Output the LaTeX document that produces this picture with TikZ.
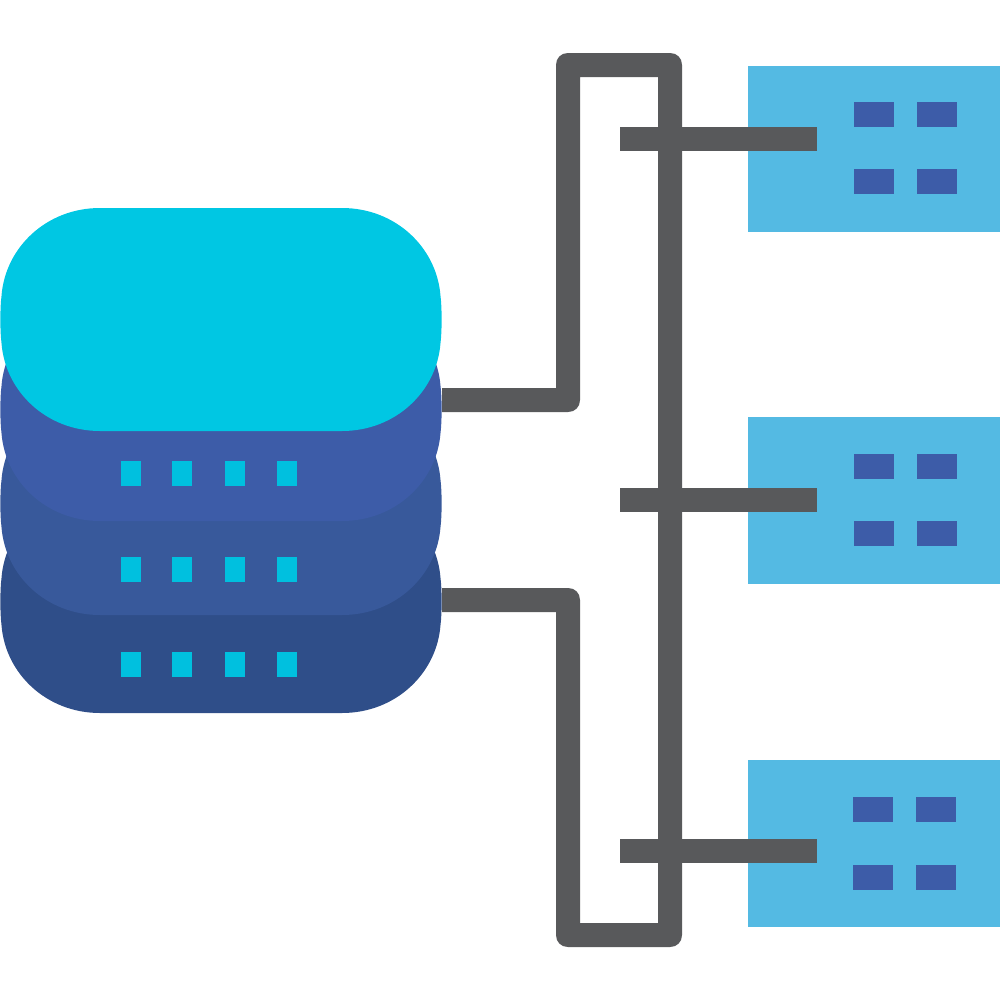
\documentclass[tikz,border=0pt]{standalone}
\definecolor{wire}{HTML}{58595B}
\definecolor{cyantop}{HTML}{00C7E3}
\definecolor{dotcyan}{HTML}{00C0DF}
\definecolor{layerA}{HTML}{3D5CA8}
\definecolor{layerB}{HTML}{38599B}
\definecolor{layerC}{HTML}{2F4E89}
\definecolor{hostblue}{HTML}{54BAE3}
\tikzset{
  wirefill/.style={fill=wire},
  hostbox/.style={fill=hostblue},
  hostdot/.style={fill=layerA},
  leddot/.style={fill=dotcyan}
}
% #1 colour, #2 top y
\newcommand{\serverlayer}[2]{%
  \fill[#1] (100,#2) -- (342,#2)
    .. controls (396,#2) and (437,#2+40) .. (440.5,#2+88)
    .. controls (442,#2+100) and (442,#2+123) .. (440.5,#2+135)
    .. controls (437,#2+183) and (396,#2+223) .. (342,#2+223)
    -- (100,#2+223)
    .. controls (46,#2+223) and (5,#2+183) .. (1.5,#2+135)
    .. controls (0,#2+123) and (0,#2+100) .. (1.5,#2+88)
    .. controls (5,#2+40) and (46,#2) .. (100,#2) -- cycle;}
\newcommand{\ledrow}[1]{%
  \foreach \xx in {121,172,225,277}
    \fill[leddot] (\xx,#1) rectangle (\xx+20,#1+25);}
% #1 top of box, #2 left of dots, #3 first dot row, #4 second dot row
\newcommand{\hostunit}[4]{%
  \fill[hostbox] (748,#1) rectangle (1000,#1+166.5);
  \foreach \xx in {#2,#2+63}
    \foreach \yy in {#3,#4}
      \fill[hostdot] (\xx,\yy) rectangle (\xx+40,\yy+24.5);}
\begin{document}
\begin{tikzpicture}[x=0.01cm,y=-0.01cm]
\useasboundingbox (0,0) rectangle (1000,1000);
% hosts
\hostunit{65.5}{854}{102}{169}
\hostunit{417}{854}{454}{521}
\hostunit{760}{853}{797}{865}
% bus frame with the two server links
\fill[wirefill] (442,388) -- (556,388) -- (556,65)
  .. controls (556,58) and (561,53) .. (568,53) -- (670,53)
  .. controls (677,53) and (682,58) .. (682,65) -- (682,935)
  .. controls (682,942) and (677,947) .. (670,947) -- (568,947)
  .. controls (561,947) and (556,942) .. (556,935) -- (556,612) -- (442,612) -- (442,588) -- (568,588)
  .. controls (575,588) and (580,593) .. (580,600) -- (580,923) -- (658,923) -- (658,77) -- (580,77) -- (580,400)
  .. controls (580,407) and (575,412) .. (568,412) -- (442,412) -- cycle;
% host taps
\fill[wirefill] (619.5,127) rectangle (817,151);
\fill[wirefill] (619.5,488) rectangle (817,512);
\fill[wirefill] (619.5,839) rectangle (817,863);
% server stack
\serverlayer{layerC}{490}
\serverlayer{layerB}{392}
\serverlayer{layerA}{298}
\serverlayer{cyantop}{208}
\ledrow{461}
\ledrow{557}
\ledrow{652}
\end{tikzpicture}
\end{document}
